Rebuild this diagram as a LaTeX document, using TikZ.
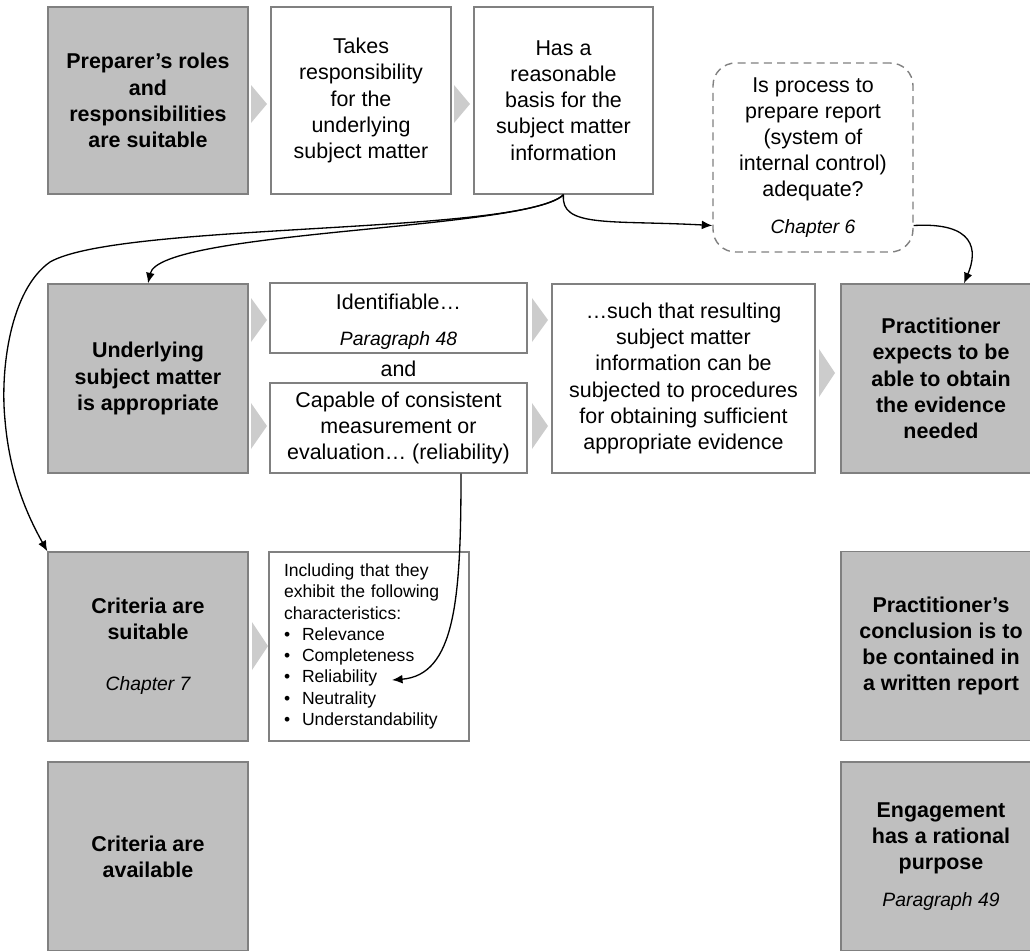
\documentclass[tikz,border=0pt]{standalone}
\usepackage{fontspec}
\setmainfont{Liberation Sans}
\usetikzlibrary{arrows.meta,calc}
\definecolor{boxgray}{RGB}{191,191,191}
\definecolor{edgegray}{RGB}{128,128,128}
\definecolor{chevgray}{RGB}{204,204,204}
\newcommand\srcref[1]{{\fontsize{11}{13}\selectfont\mdseries\itshape #1}}

\begin{document}
\begin{tikzpicture}[x=0.02cm, y=-0.02cm,
        every node/.style={inner sep=0pt, align=center, font=\fontsize{12.2}{14.9}\selectfont},
        graybox/.style={draw=edgegray, line width=0.8pt, fill=boxgray, minimum width=4cm, minimum height=3.78cm, font=\fontsize{12.2}{14.9}\selectfont\bfseries},
        whitebox/.style={draw=edgegray, line width=0.8pt, fill=white},
        askbox/.style={draw=edgegray, line width=0.8pt, dash pattern=on 4.5pt off 3pt, rounded corners=0.45cm, minimum width=4cm, minimum height=3.78cm},
        link/.style={-{Latex[length=6pt,width=5pt]}, line width=0.75pt}]
    \path[use as bounding box] (0,0) rectangle (1030,950);
    \clip (0,0) rectangle (1030,950);

    % chevrons between the boxes
    \foreach \cx/\cy/\ch in {251/104/19, 454/104/19, 251/320/22, 251/426/23, 532/320/22, 532/426/23, 819/373/24, 252/646/24}
        \fill[chevgray] (\cx,\cy-\ch) -- (\cx+16,\cy) -- (\cx,\cy+\ch) -- cycle;

    \node[graybox, minimum height=3.74cm] (prep) at (148,100.5) {Preparer’s roles\\and\\responsibilities\\are suitable};
    \node[whitebox, minimum width=3.6cm, minimum height=3.74cm] (takes) at (361,100.5) {Takes\\responsibility\\for the\\underlying\\subject matter};
    \node[whitebox, minimum width=3.58cm, minimum height=3.74cm] (basis) at (563.5,100.5) {Has a\\reasonable\\basis for the\\subject matter\\information};
    \node[askbox] (proc) at (813,157.5) {Is process to\\prepare report\\(system of\\internal control)\\adequate?\\[6pt]\srcref{Chapter 6}};

    \node[graybox] (under) at (148,378.5) {Underlying\\subject matter\\is appropriate};
    \node[whitebox, minimum width=5.14cm, minimum height=1.4cm] (ident) at (398.5,318) {\rule{0pt}{13.5pt}Identifiable…\\[5.5pt]\srcref{Paragraph 48}};
    \node (andlbl) at (398.5,369) {and};
    \node[whitebox, minimum width=5.14cm, minimum height=1.8cm] (capable) at (398.5,428) {Capable of consistent\\measurement or\\evaluation… (reliability)};
    \node[whitebox, minimum width=5.26cm, minimum height=3.78cm] (such) at (683.5,378.5) {…such that resulting\\subject matter\\information can be\\subjected to procedures\\for obtaining sufficient\\appropriate evidence};
    \node[graybox] (pract) at (941,378.5) {Practitioner\\expects to be\\able to obtain\\the evidence\\needed};

    \node[graybox] (crit) at (148,646.5) {Criteria are\\suitable\\[14pt]\srcref{Chapter 7}};
    \node[whitebox, minimum width=4cm, minimum height=3.78cm, text width=3.4cm, align=left, font=\fontsize{10}{12.1}\selectfont] (incl) at (369,646.5)
        {Including that they\\exhibit the following\\characteristics:\\\makebox[0.36cm][l]{•}Relevance\\\makebox[0.36cm][l]{•}Completeness\\\makebox[0.36cm][l]{•}Reliability\\\makebox[0.36cm][l]{•}Neutrality\\\makebox[0.36cm][l]{•}Understandability};
    \coordinate (reltip) at (392,680);
    \node[graybox] (concl) at (941,646) {Practitioner’s\\conclusion is to\\be contained in\\a written report};

    \node[graybox] (avail) at (148,856.5) {Criteria are\\available};
    \node[graybox] (engage) at (941,856.5) {Engagement\\has a rational\\purpose\\[6pt]\srcref{Paragraph 49}};

    \draw[link] (basis.south) .. controls (530,230) and (160,230) .. (under.north);
    \draw[link] (basis.south) .. controls (520,235) and (120,222) .. (50,262)
        .. controls (10,290) and (0,370) .. (5,420) .. controls (10,480) and (30,520) .. (crit.north west);
    \draw[link] (basis.south) .. controls (560,228) and (610,220) .. ($(proc.west)+(0,68)$);
    \draw[link] ($(proc.east)+(0,68)$) .. controls (975,222) and (978,250) .. ($(pract.north)+(23,0)$);
    \draw[link] ($(capable.south)+(62.5,0)$) .. controls (461,600) and (455,675) .. (reltip);
\end{tikzpicture}
\end{document}
